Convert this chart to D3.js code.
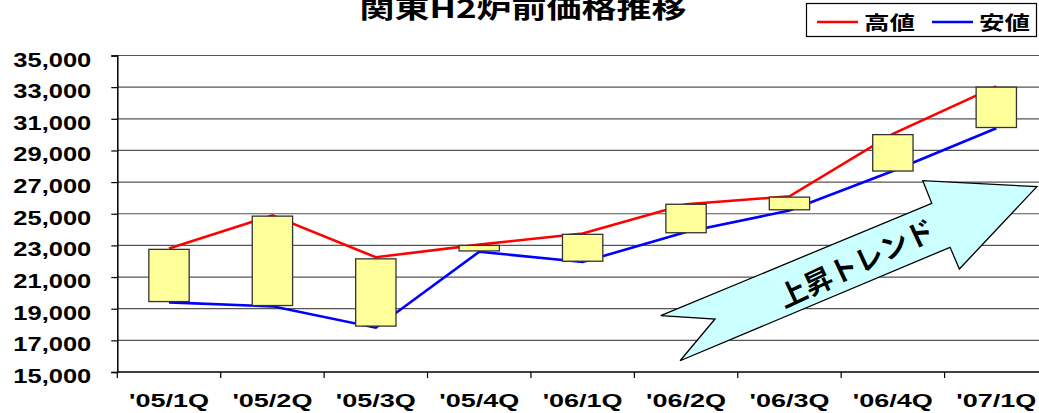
<!DOCTYPE html>
<html>
<head>
<meta charset="utf-8">
<script src="https://cdn.jsdelivr.net/npm/d3@7"></script>
<style>
    body { margin: 0; background: #fff; }
    svg { display: block; }
    .cjk { font-family: "Noto Sans CJK JP", "Noto Sans", sans-serif; font-weight: bold; }
    .num { font-family: "Liberation Sans", Arial, sans-serif; font-weight: bold; }
</style>
</head>
<body>
<div id="visual"></div>
<script>
/* quarterly H2 scrap prices, Kanto */
var quarters = ["'05/1Q", "'05/2Q", "'05/3Q", "'05/4Q", "'06/1Q", "'06/2Q", "'06/3Q", "'06/4Q", "'07/1Q"];
var highs = [22800, 24900, 22250, 23050, 23750, 25600, 26100, 30050, 33050];
var lows = [19400, 19150, 17800, 22600, 21950, 23850, 25200, 27700, 30400];
var boxTops = [22750, 24850, 22150, 23000, 23700, 25600, 26050, 30000, 33000];
var boxBottoms = [19450, 19200, 17900, 22650, 22000, 23800, 25250, 27700, 30450];
var yTickValues = [15000, 17000, 19000, 21000, 23000, 25000, 27000, 29000, 31000, 33000, 35000];
var seriesNames = ["高値", "安値"];

// trend arrow outline, in (category position, price) units
var arrowOutline = [[5.255, 18560], [5.78, 18350], [5.442, 15710], [8.053, 22880], [8.143, 21510],
    [8.893, 26710], [7.789, 27090], [7.876, 25660]];

function render() {

    var width = 1039, height = 413;
    var plot = {left: 117.3, right: 1048, top: 55.5, bottom: 372};

    var svg = d3.select("#visual").append("svg")
        .attr("width", width)
        .attr("height", height);

    var x = d3.scaleBand().domain(quarters).range([plot.left, plot.right]).padding(0);
    var xPos = d3.scaleLinear().domain([0, quarters.length]).range([plot.left, plot.right]);
    var y = d3.scaleLinear().domain([15000, 35000]).range([plot.bottom, plot.top]);

    function cx(i) {
        return x(quarters[i]) + x.bandwidth() / 2;
    }

    // gridlines
    svg.append("g")
        .selectAll("line")
        .data(yTickValues.slice(1))
        .enter().append("line")
        .attr("x1", plot.left)
        .attr("x2", plot.right)
        .attr("y1", function (d) { return y(d); })
        .attr("y2", function (d) { return y(d); })
        .attr("stroke", "#555")
        .attr("stroke-width", 1.2);

    // y axis
    var yAxis = svg.append("g")
        .attr("transform", "translate(" + plot.left + ",0)")
        .call(d3.axisLeft(y).tickValues(yTickValues).tickSize(6).tickPadding(20).tickFormat(d3.format(",")));
    yAxis.select(".domain").attr("stroke", "#000").attr("stroke-width", 1.5);
    yAxis.selectAll(".tick line").attr("stroke", "#000").attr("stroke-width", 1.2);
    yAxis.selectAll("text")
        .attr("class", "num")
        .attr("fill", "#000")
        .style("font-size", "21px")
        .attr("dy", "10.5px")
        .attr("textLength", 78)
        .attr("lengthAdjust", "spacingAndGlyphs");

    // x axis
    svg.append("line")
        .attr("x1", plot.left).attr("x2", plot.right)
        .attr("y1", plot.bottom).attr("y2", plot.bottom)
        .attr("stroke", "#000").attr("stroke-width", 1.5);

    svg.append("g")
        .selectAll("line")
        .data(d3.range(quarters.length + 1))
        .enter().append("line")
        .attr("x1", function (d) { return xPos(d); })
        .attr("x2", function (d) { return xPos(d); })
        .attr("y1", plot.bottom)
        .attr("y2", plot.bottom + 6)
        .attr("stroke", "#000")
        .attr("stroke-width", 1.2);

    svg.append("g")
        .selectAll("text")
        .data(quarters)
        .enter().append("text")
        .attr("class", "num")
        .attr("x", function (d, i) { return cx(i); })
        .attr("y", 407)
        .attr("text-anchor", "middle")
        .style("font-size", "19px")
        .attr("textLength", 80)
        .attr("lengthAdjust", "spacingAndGlyphs")
        .text(function (d) { return d; });

    // high / low lines
    var line = d3.line()
        .x(function (d, i) { return cx(i); })
        .y(function (d) { return y(d); });

    svg.append("path")
        .datum(highs)
        .attr("d", line)
        .attr("fill", "none")
        .attr("stroke", "#ff0000")
        .attr("stroke-width", 2.6);

    svg.append("path")
        .datum(lows)
        .attr("d", line)
        .attr("fill", "none")
        .attr("stroke", "#0000ff")
        .attr("stroke-width", 2.6);

    // up/down boxes
    var boxW = x.bandwidth() * 0.39;
    svg.append("g")
        .selectAll("rect")
        .data(quarters)
        .enter().append("rect")
        .attr("x", function (d, i) { return cx(i) - boxW / 2; })
        .attr("y", function (d, i) { return y(boxTops[i]); })
        .attr("width", boxW)
        .attr("height", function (d, i) { return y(boxBottoms[i]) - y(boxTops[i]); })
        .attr("fill", "#ffff99")
        .attr("stroke", "#333")
        .attr("stroke-width", 1.3);

    // trend arrow
    svg.append("polygon")
        .attr("points", arrowOutline.map(function (p) {
            return xPos(p[0]) + "," + y(p[1]);
        }).join(" "))
        .attr("fill", "#ccffff")
        .attr("stroke", "#000")
        .attr("stroke-width", 1.3);

    svg.append("text")
        .attr("class", "cjk")
        .attr("transform", "translate(" + xPos(7.14) + "," + y(21950) + ") rotate(-25)")
        .attr("text-anchor", "middle")
        .attr("dominant-baseline", "central")
        .style("font-size", "28px")
        .attr("fill", "#000")
        .text("上昇トレンド");

    // title
    svg.append("text")
        .attr("class", "cjk")
        .attr("x", 523)
        .attr("y", 18)
        .attr("text-anchor", "middle")
        .style("font-size", "26px")
        .attr("textLength", 327)
        .attr("lengthAdjust", "spacingAndGlyphs")
        .text("関東H2炉前価格推移");

    // legend
    var legend = svg.append("g");
    legend.append("rect")
        .attr("x", 806.5).attr("y", 3.5)
        .attr("width", 230).attr("height", 33)
        .attr("fill", "#fff")
        .attr("stroke", "#000")
        .attr("stroke-width", 1.2);

    var legendColors = ["#ff0000", "#0000ff"];
    var legendX = [817, 932];
    seriesNames.forEach(function (name, i) {
        legend.append("line")
            .attr("x1", legendX[i]).attr("x2", legendX[i] + 41)
            .attr("y1", 22).attr("y2", 22)
            .attr("stroke", legendColors[i])
            .attr("stroke-width", 2.6);
        legend.append("text")
            .attr("class", "cjk")
            .attr("x", legendX[i] + 47)
            .attr("y", 30)
            .style("font-size", "19px")
            .attr("textLength", 51)
            .attr("lengthAdjust", "spacingAndGlyphs")
            .text(name);
    });
}

render();
</script>
</body>
</html>
